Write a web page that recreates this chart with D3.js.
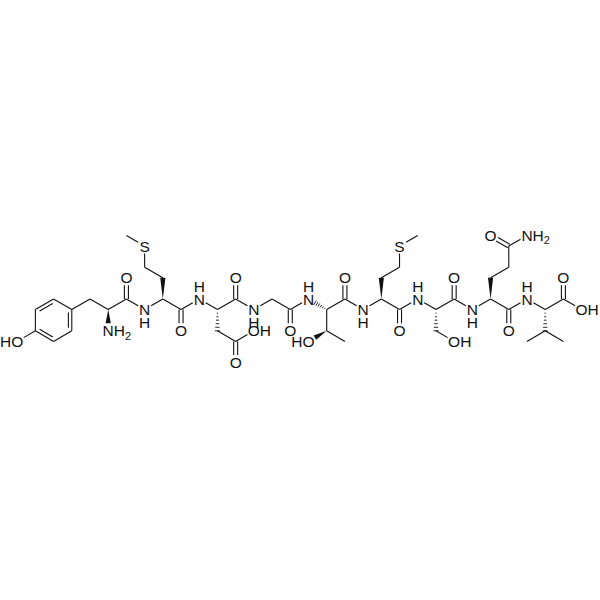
<!DOCTYPE html>
<html>
<head>
<meta charset="utf-8">
<script src="https://cdn.jsdelivr.net/npm/d3@7"></script>
<style>
html, body { margin: 0; padding: 0; background: #fff; }
text { font-family: "Liberation Sans", Arial, sans-serif; font-size: 15.5px; fill: #111; }
</style>
</head>
<body>
<div id="chart"></div>
<script>
// atoms on a lattice: [id, column, row]
const backboneAtoms = [
    ["tyrB", 0, 0], ["tyrA", 1, 1], ["tyrC", 2, 0], ["n1", 3, 1], ["metA", 4, 0], ["metC", 5, 1],
    ["n2", 6, 0], ["aspA", 7, 1], ["aspC", 8, 0], ["n3", 9, 1], ["glyA", 10, 0], ["glyC", 11, 1],
    ["n4", 12, 0], ["thrA", 13, 1], ["thrC", 14, 0], ["n5", 15, 1], ["met2A", 16, 0], ["met2C", 17, 1],
    ["n6", 18, 0], ["serA", 19, 1], ["serC", 20, 0], ["n7", 21, 1], ["glnA", 22, 0], ["glnC", 23, 1],
    ["n8", 24, 0], ["valA", 25, 1], ["valC", 26, 0], ["valOH", 27, 1]
];
const sideAtoms = [
    ["r1", -1, 1], ["r2", -1, 3], ["r3", -2, 4], ["r4", -3, 3], ["r5", -3, 1], ["r6", -2, 0], ["tyrOH", -4, 4],
    ["tyrN", 1, 3], ["tyrO", 2, -2],
    ["metB", 4, -2], ["metG", 3, -3], ["metS", 3, -5], ["metE", 2, -6], ["metO", 5, 3],
    ["aspB", 7, 3], ["aspG", 8, 4], ["aspO", 8, 6], ["aspOH", 9, 3], ["aspCO", 8, -2],
    ["glyO", 11, 3],
    ["thrB", 13, 3], ["thrOH", 12, 4], ["thrM", 14, 4], ["thrO", 14, -2],
    ["met2B", 16, -2], ["met2G", 17, -3], ["met2S", 17, -5], ["met2E", 18, -6], ["met2O", 17, 3],
    ["serB", 19, 3], ["serOH", 20, 4], ["serO", 20, -2],
    ["glnB", 22, -2], ["glnG", 23, -3], ["glnD", 23, -5], ["glnDO", 22, -6], ["glnN", 24, -6], ["glnO", 23, 3],
    ["valB", 25, 3], ["valM1", 24, 4], ["valM2", 26, 4], ["valO", 26, -2]
];

const singleBonds = [
    ["tyrOH", "r4"], ["r4", "r5"], ["r5", "r6"], ["r6", "r1"], ["r1", "r2"], ["r2", "r3"], ["r3", "r4"], ["r1", "tyrB"],
    ["tyrB", "tyrA"], ["tyrA", "tyrC"], ["tyrC", "n1"], ["n1", "metA"], ["metA", "metC"], ["metC", "n2"],
    ["n2", "aspA"], ["aspA", "aspC"], ["aspC", "n3"], ["n3", "glyA"], ["glyA", "glyC"], ["glyC", "n4"],
    ["thrA", "thrC"], ["thrC", "n5"], ["n5", "met2A"], ["met2A", "met2C"], ["met2C", "n6"],
    ["n6", "serA"], ["serA", "serC"], ["serC", "n7"], ["n7", "glnA"], ["glnA", "glnC"], ["glnC", "n8"],
    ["n8", "valA"], ["valA", "valC"], ["valC", "valOH"],
    ["metB", "metG"], ["metG", "metS"], ["metS", "metE"],
    ["aspB", "aspG"], ["aspG", "aspOH"],
    ["thrA", "thrB"], ["thrB", "thrM"],
    ["met2B", "met2G"], ["met2G", "met2S"], ["met2S", "met2E"],
    ["serB", "serOH"],
    ["glnB", "glnG"], ["glnG", "glnD"], ["glnD", "glnN"],
    ["valB", "valM1"], ["valB", "valM2"]
];
const doubleBonds = [
    ["tyrC", "tyrO"], ["metC", "metO"], ["aspC", "aspCO"], ["aspG", "aspO"], ["glyC", "glyO"], ["thrC", "thrO"],
    ["met2C", "met2O"], ["serC", "serO"], ["glnC", "glnO"], ["glnD", "glnDO"], ["valC", "valO"]
];
// aromatic double bonds, drawn with an inner line
const ringBonds = [["r1", "r2"], ["r3", "r4"], ["r5", "r6"]];
const wedgeBonds = [["tyrA", "tyrN"], ["metA", "metB"], ["thrB", "thrOH"], ["met2A", "met2B"], ["glnA", "glnB"]];
const hashBonds = [["aspA", "aspB"], ["thrA", "n4"], ["serA", "serB"], ["valA", "valB"]];

// [atom, text left of the symbol, symbol, text right of it]
const atomLabels = [
    ["tyrOH", "H", "O", ""], ["tyrN", "", "N", "H2"], ["tyrO", "", "O", ""], ["metS", "", "S", ""], ["metO", "", "O", ""],
    ["aspCO", "", "O", ""], ["aspO", "", "O", ""], ["aspOH", "", "O", "H"], ["glyO", "", "O", ""],
    ["thrOH", "H", "O", ""], ["thrO", "", "O", ""], ["met2S", "", "S", ""], ["met2O", "", "O", ""],
    ["serOH", "", "O", "H"], ["serO", "", "O", ""], ["glnDO", "", "O", ""], ["glnN", "", "N", "H2"], ["glnO", "", "O", ""],
    ["valOH", "", "O", "H"], ["valO", "", "O", ""],
    ["n1", "", "N", ""], ["n2", "", "N", ""], ["n3", "", "N", ""], ["n4", "", "N", ""],
    ["n5", "", "N", ""], ["n6", "", "N", ""], ["n7", "", "N", ""], ["n8", "", "N", ""]
];
const hydrogensBelow = ["n1", "n3", "n5", "n7"];
const hydrogensAbove = ["n2", "n4", "n6", "n8"];

const width = 600, height = 600;
const x = d3.scaleLinear().domain([0, 26]).range([90, 563.4]);
const y = d3.scaleLinear().domain([0, 1]).range([299, 309.6]);

const svg = d3.select("#chart").append("svg")
    .attr("width", width)
    .attr("height", height)
    .style("display", "block");

const pos = new Map();
backboneAtoms.concat(sideAtoms).forEach(a => pos.set(a[0], { x: x(a[1]), y: y(a[2]) }));
const labelled = new Set(atomLabels.map(d => d[0]));
const labelGap = 7.5;

// end points of a bond, pulled back from atoms that carry a label
function ends(a, b) {
    const p = pos.get(a), q = pos.get(b);
    const dx = q.x - p.x, dy = q.y - p.y, len = Math.hypot(dx, dy);
    const ux = dx / len, uy = dy / len;
    const s = labelled.has(a) ? labelGap : 0;
    const e = labelled.has(b) ? labelGap : 0;
    return {
        x1: p.x + ux * s, y1: p.y + uy * s,
        x2: q.x - ux * e, y2: q.y - uy * e,
        nx: -uy, ny: ux
    };
}

function drawLine(g, l, offset) {
    g.append("line")
        .attr("x1", l.x1 + l.nx * offset).attr("y1", l.y1 + l.ny * offset)
        .attr("x2", l.x2 + l.nx * offset).attr("y2", l.y2 + l.ny * offset);
}

const bondLayer = svg.append("g").attr("stroke", "#111").attr("stroke-width", 1.1).attr("fill", "none");

singleBonds.forEach(b => drawLine(bondLayer, ends(b[0], b[1]), 0));

doubleBonds.forEach(b => {
    const l = ends(b[0], b[1]);
    drawLine(bondLayer, l, 2);
    drawLine(bondLayer, l, -2);
});

// inner ring lines, shortened and moved towards the ring centre
const ringCenter = { x: x(-2), y: y(2) };
ringBonds.forEach(b => {
    const l = ends(b[0], b[1]);
    const midX = (l.x1 + l.x2) / 2, midY = (l.y1 + l.y2) / 2;
    const side = (ringCenter.x - midX) * l.nx + (ringCenter.y - midY) * l.ny > 0 ? 1 : -1;
    const trim = 0.14;
    const t = {
        x1: l.x1 + (l.x2 - l.x1) * trim, y1: l.y1 + (l.y2 - l.y1) * trim,
        x2: l.x2 - (l.x2 - l.x1) * trim, y2: l.y2 - (l.y2 - l.y1) * trim,
        nx: l.nx, ny: l.ny
    };
    drawLine(bondLayer, t, side * 3.4);
});

wedgeBonds.forEach(b => {
    const l = ends(b[0], b[1]);
    const w = 2.6;
    svg.append("polygon")
        .attr("fill", "#111")
        .attr("points", [
            [l.x1, l.y1],
            [l.x2 + l.nx * w, l.y2 + l.ny * w],
            [l.x2 - l.nx * w, l.y2 - l.ny * w]
        ].join(" "));
});

hashBonds.forEach(b => {
    const l = ends(b[0], b[1]);
    d3.range(1, 7).forEach(i => {
        const t = i / 6;
        const cx = l.x1 + (l.x2 - l.x1) * t, cy = l.y1 + (l.y2 - l.y1) * t;
        const w = 2.4 * t + 0.2;
        bondLayer.append("line")
            .attr("stroke-width", 0.9)
            .attr("x1", cx + l.nx * w).attr("y1", cy + l.ny * w)
            .attr("x2", cx - l.nx * w).attr("y2", cy - l.ny * w);
    });
});

const textLayer = svg.append("g");
const symbolHalf = { O: 6, N: 5.6, S: 5.2 };

atomLabels.forEach(([id, before, symbol, after]) => {
    const p = pos.get(id);
    const base = p.y + 5.5;
    textLayer.append("text").attr("x", p.x).attr("y", base).attr("text-anchor", "middle").text(symbol);
    if (before) {
        textLayer.append("text").attr("x", p.x - symbolHalf[symbol]).attr("y", base).attr("text-anchor", "end").text(before);
    }
    if (after) {
        const t = textLayer.append("text").attr("x", p.x + symbolHalf[symbol]).attr("y", base);
        t.append("tspan").text(after[0]);
        if (after[1]) {
            t.append("tspan").attr("dy", 3.5).style("font-size", "11px").text(after[1]);
        }
    }
});

hydrogensBelow.forEach(id => {
    const p = pos.get(id);
    textLayer.append("text").attr("x", p.x).attr("y", p.y + 18.5).attr("text-anchor", "middle").text("H");
});
hydrogensAbove.forEach(id => {
    const p = pos.get(id);
    textLayer.append("text").attr("x", p.x).attr("y", p.y - 7.5).attr("text-anchor", "middle").text("H");
});
</script>
</body>
</html>
